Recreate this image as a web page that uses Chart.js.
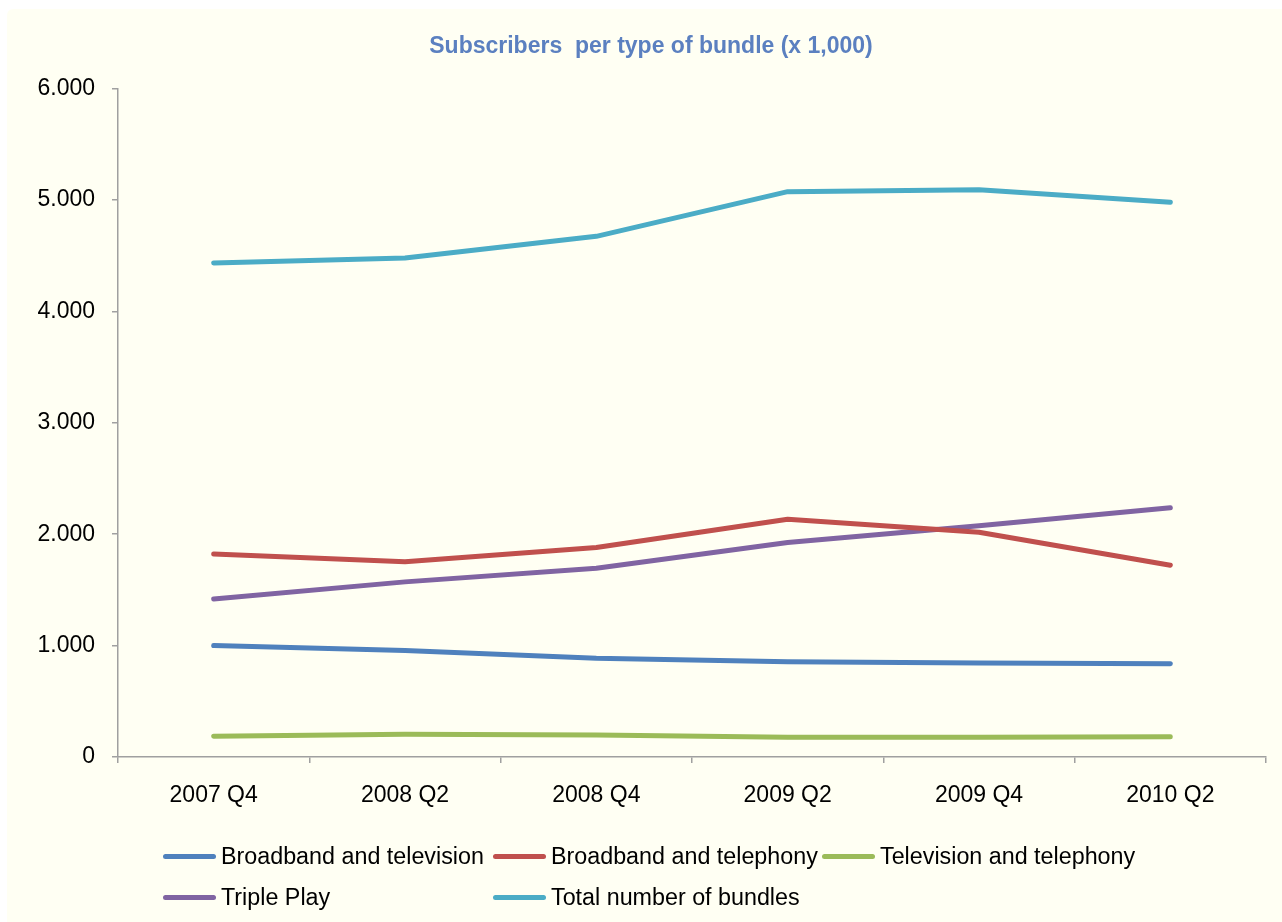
<!DOCTYPE html>
<html>
<head>
<meta charset="utf-8">
<title>Subscribers per type of bundle</title>
<script src="https://cdn.jsdelivr.net/npm/chart.js@4.4.1/dist/chart.umd.min.js"></script>
<style>
  html, body { margin: 0; padding: 0; background: #ffffff; }
  body { width: 1282px; height: 922px; position: relative; overflow: hidden; font-family: "Liberation Sans", Arial, sans-serif; }
  #frame { position: absolute; left: 7px; top: 9px; right: 0; bottom: 0; background: #fffff3; border-top-left-radius: 6px; }
  #chartBox { position: absolute; left: 0; top: 0; width: 1282px; height: 922px; }
  #legend { position: absolute; left: 163px; top: 843px; display: grid; grid-template-columns: 330px 329px auto; row-gap: 15px; }
  .legend-item { display: flex; align-items: center; height: 26px; font-size: 23.3px; color: #000; white-space: nowrap; }
  .legend-line { width: 53px; height: 5px; border-radius: 3px; margin-right: 5px; }
</style>
</head>
<body>
<div id="frame"></div>
<div id="chartBox"><canvas id="bundleChart" width="1282" height="922"></canvas></div>
<div id="legend"></div>
<script>
// Quarters on the x axis
const quarters = ['2007 Q4', '2008 Q2', '2008 Q4', '2009 Q2', '2009 Q4', '2010 Q2'];

// Subscribers (x 1,000) per bundle type
const broadbandTelevision = [1000, 955, 886, 856, 844, 838];
const broadbandTelephony = [1823, 1752, 1880, 2135, 2018, 1722];
const televisionTelephony = [186, 204, 198, 177, 177, 182];
const triplePlay = [1419, 1572, 1695, 1925, 2075, 2237];
const totalBundles = [4434, 4479, 4674, 5075, 5093, 4979];

const seriesNames = ['Broadband and television', 'Broadband and telephony', 'Television and telephony', 'Triple Play', 'Total number of bundles'];
const seriesColors = ['#4f81bd', '#c0504d', '#9bbb59', '#8064a2', '#4bacc6'];

// y axis range
const yMin = 0;
const yMax = 6000;
const yStep = 1000;

const axisColor = '#a0a0a0';
const tickFont = { family: "'Liberation Sans', Arial, sans-serif", size: 23 };

function makeDataset(label, data, color) {
    return {
        label: label,
        data: data,
        borderColor: color,
        backgroundColor: color,
        borderWidth: 5,
        borderCapStyle: 'round',
        borderJoinStyle: 'round',
        tension: 0,
        pointRadius: 0,
        pointHoverRadius: 0,
        fill: false
    };
}

const datasets = [
    makeDataset(seriesNames[0], broadbandTelevision, seriesColors[0]),
    makeDataset(seriesNames[1], broadbandTelephony, seriesColors[1]),
    makeDataset(seriesNames[2], televisionTelephony, seriesColors[2]),
    makeDataset(seriesNames[3], triplePlay, seriesColors[3]),
    makeDataset(seriesNames[4], totalBundles, seriesColors[4])
];

// thousands separator as a dot: 6000 -> 6.000
function formatThousands(value) {
    return String(value).replace(/\B(?=(\d{3})+(?!\d))/g, '.');
}

const ctx = document.getElementById('bundleChart').getContext('2d');
const chart = new Chart(ctx, {
    type: 'line',
    data: {
        labels: quarters,
        datasets: datasets
    },
    options: {
        responsive: false,
        animation: false,
        layout: {
            // left padding keeps the title centred a bit right of the canvas middle
            padding: { left: 36, right: 16, top: 0, bottom: 0 }
        },
        plugins: {
            legend: { display: false },
            tooltip: { enabled: false },
            title: {
                display: true,
                text: 'Subscribers  per type of bundle (x 1,000)',
                color: '#5b80c0',
                font: { family: "'Liberation Sans', Arial, sans-serif", size: 23, weight: 'bold' },
                padding: { top: 33, bottom: 28 }
            }
        },
        scales: {
            x: {
                type: 'category',
                offset: true,
                grid: {
                    offset: true,
                    drawOnChartArea: false,
                    drawTicks: true,
                    tickLength: 6,
                    color: axisColor,
                    lineWidth: 1.5
                },
                border: { display: true, color: axisColor, width: 1.5 },
                ticks: {
                    color: '#000',
                    font: tickFont,
                    padding: 19,
                    maxRotation: 0,
                    autoSkip: false
                },
                afterFit: function(scale) {
                    scale.height = 165;
                }
            },
            y: {
                min: yMin,
                max: yMax,
                grid: {
                    drawOnChartArea: false,
                    drawTicks: true,
                    tickLength: 6,
                    color: axisColor,
                    lineWidth: 1.5
                },
                border: { display: true, color: axisColor, width: 1.5 },
                ticks: {
                    stepSize: yStep,
                    color: '#000',
                    font: tickFont,
                    padding: 17,
                    callback: function(value) {
                        return formatThousands(value);
                    }
                },
                afterFit: function(scale) {
                    scale.width = 82;
                }
            }
        }
    }
});

// Legend laid out in fixed columns under the plot
const legendEl = document.getElementById('legend');
chart.data.datasets.forEach(function(ds) {
    const item = document.createElement('div');
    item.className = 'legend-item';
    const line = document.createElement('span');
    line.className = 'legend-line';
    line.style.background = ds.borderColor;
    const text = document.createElement('span');
    text.textContent = ds.label;
    item.appendChild(line);
    item.appendChild(text);
    legendEl.appendChild(item);
});
</script>
</body>
</html>
